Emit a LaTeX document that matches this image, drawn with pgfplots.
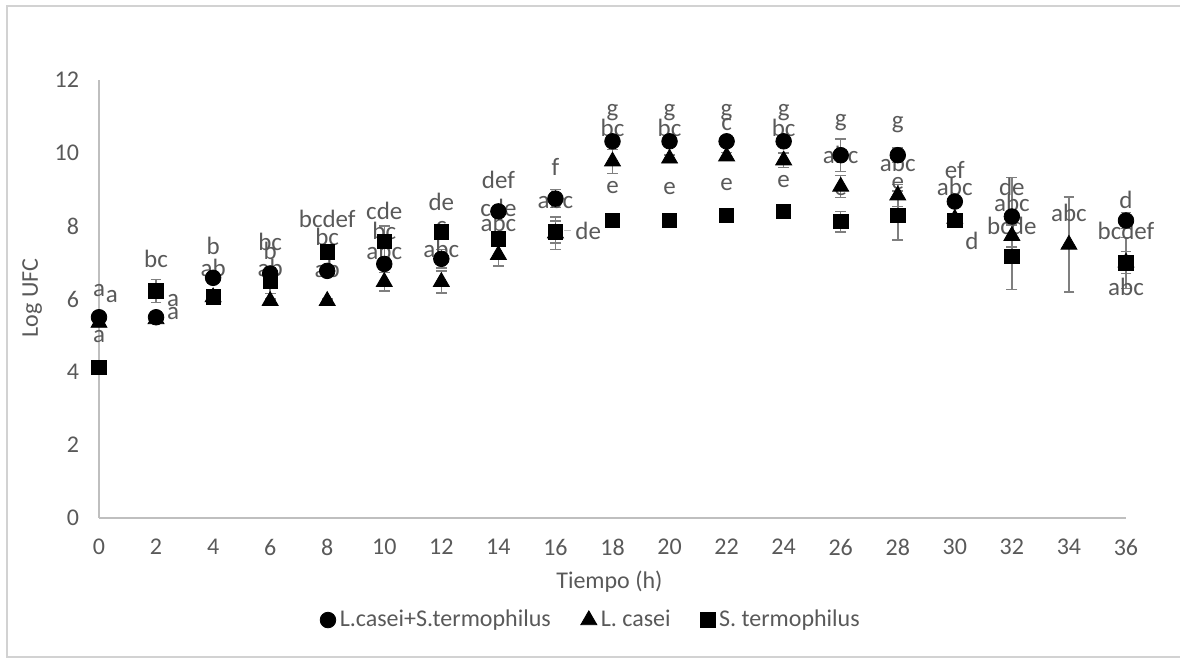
\documentclass[border=0pt]{standalone}
\usepackage{pgfplots}
\pgfplotsset{compat=1.18}
\usepackage{fontspec}
\setmainfont{Carlito}
\definecolor{txt}{HTML}{595959}
\definecolor{axl}{HTML}{BFBFBF}
\definecolor{err}{HTML}{7F7F7F}
\begin{document}
\begin{tikzpicture}
\useasboundingbox (-49.5pt,-70pt) rectangle (540.5pt,259pt);
\draw[color=axl!70, line width=0.8pt] (545pt,256pt) -- (-46pt,256pt) -- (-46pt,-69.5pt) -- (545pt,-69.5pt);
\begin{axis}[
  at={(0,0)}, anchor=south west,
  scale only axis, width=513.5pt, height=219pt,
  xmin=0, xmax=36, ymin=0, ymax=12,
  xtick={0,2,...,36}, ytick={0,2,...,12},
  axis x line=bottom, axis y line=left,
  axis line style={-, color=axl, line width=0.8pt},
  major tick length=0pt,
  tick label style={font=\fontsize{12}{14}\selectfont, color=txt},
  /pgf/number format/assume math mode=true,
  xticklabel style={yshift=-7pt},
  yticklabel style={xshift=-6.5pt},
  xlabel={Tiempo (h)}, ylabel={Log UFC},
  label style={font=\fontsize{12}{14}\selectfont, color=txt},
  xlabel style={at={(rel axis cs:0.497,-0.146)}, anchor=center},
  ylabel style={at={(rel axis cs:-0.065,0.502)}, anchor=center, rotate=0},
  legend style={at={(rel axis cs:0.48,-0.233)}, anchor=center, draw=none, fill=none,
    legend columns=3, font=\fontsize{12}{14}\selectfont, text=txt,
    /tikz/every even column/.append style={column sep=13pt},
    legend cell align=left},
  error bars/y dir=both, error bars/y explicit,
  error bars/error bar style={color=err, line width=0.75pt},
  error bars/error mark options={rotate=90, mark size=2.7pt, color=err, line width=0.75pt},
  clip=false,
]
\addplot[only marks, mark=*, mark size=3.9pt, black] table[x=t, y=v, y error=e] {
t v e
0 5.50 0.10
2 5.50 0.10
4 6.58 0.10
6 6.70 0.10
8 6.77 0.10
10 6.96 0.15
12 7.10 0.25
14 8.40 0.15
16 8.75 0.25
18 10.32 0.10
20 10.32 0.10
22 10.32 0.10
24 10.32 0.10
26 9.94 0.45
28 9.94 0.20
30 8.67 0.10
32 8.26 1.07
36 8.15 0.22
};
\addlegendentry{L.casei+S.termophilus}
\addplot[only marks, mark=triangle*, mark size=4.6pt, black] table[x=t, y=v, y error=e] {
t v e
0 5.35 0.05
2 5.45 0.05
4 6.05 0.05
6 5.95 0.05
8 5.95 0.05
10 6.47 0.25
12 6.47 0.30
14 7.21 0.30
16 7.80 0.45
18 9.77 0.33
20 9.85 0.10
22 9.91 0.10
24 9.80 0.20
26 9.08 0.30
28 8.84 0.30
30 8.20 0.10
32 7.73 0.30
34 7.49 1.30
36 7.00 0.30
};
\addlegendentry{L. casei}
\addplot[only marks, mark=square*, mark size=3.6pt, black] table[x=t, y=v, y error=e] {
t v e
0 4.13 0.10
2 6.22 0.32
4 6.06 0.10
6 6.50 0.35
8 7.29 0.10
10 7.57 0.43
12 7.84 0.10
14 7.65 0.20
16 7.84 0.30
18 8.15 0.05
20 8.15 0.10
22 8.29 0.05
24 8.40 0.05
26 8.12 0.28
28 8.29 0.67
30 8.15 0.10
32 7.16 0.90
36 6.99 0.70
};
\addlegendentry{S. termophilus}
\draw[color=axl, line width=0.75pt] (axis cs:16.3,7.87) -- (axis cs:16.55,7.87);
\begin{scope}[every node/.style={font=\fontsize{12.5}{14}\selectfont, text=txt, inner sep=0pt}]
\node at (axis cs:0,6.22) {a};
\node at (axis cs:0.45,6.08) {a};
\node at (axis cs:0,4.98) {a};
\node at (axis cs:2,7.10) {bc};
\node at (axis cs:2.6,5.95) {a};
\node at (axis cs:2.6,5.59) {a};
\node at (axis cs:4,7.46) {b};
\node at (axis cs:4,6.85) {ab};
\node at (axis cs:6,7.57) {bc};
\node at (axis cs:6,7.32) {b};
\node at (axis cs:6,6.85) {ab};
\node at (axis cs:8,8.20) {bcdef};
\node at (axis cs:8,7.70) {bc};
\node at (axis cs:8,6.83) {ab};
\node at (axis cs:10,8.42) {cde};
\node at (axis cs:10,7.87) {bc};
\node at (axis cs:10,7.32) {abc};
\node at (axis cs:12,8.67) {de};
\node at (axis cs:12,7.95) {c};
\node at (axis cs:12,7.38) {abc};
\node at (axis cs:14,9.25) {def};
\node at (axis cs:14,8.50) {cde};
\node at (axis cs:14,8.09) {abc};
\node at (axis cs:16,9.63) {f};
\node at (axis cs:16,8.72) {abc};
\node at (axis cs:17.15,7.87) {de};
\node at (axis cs:18,11.11) {g};
\node at (axis cs:18,10.68) {bc};
\node at (axis cs:18,9.06) {e};
\node at (axis cs:20,11.11) {g};
\node at (axis cs:20,10.68) {bc};
\node at (axis cs:20,9.03) {e};
\node at (axis cs:22,11.11) {g};
\node at (axis cs:22,10.77) {c};
\node at (axis cs:22,9.14) {e};
\node at (axis cs:24,11.11) {g};
\node at (axis cs:24,10.68) {bc};
\node at (axis cs:24,9.22) {e};
\node at (axis cs:26,10.82) {g};
\node at (axis cs:26,9.94) {abc};
\node at (axis cs:26,9.00) {e};
\node at (axis cs:28,10.77) {g};
\node at (axis cs:28,9.72) {abc};
\node at (axis cs:28,9.17) {e};
\node at (axis cs:30,9.52) {ef};
\node at (axis cs:30,9.08) {abc};
\node at (axis cs:30.6,7.60) {d};
\node at (axis cs:32,9.08) {de};
\node at (axis cs:32,8.64) {abc};
\node at (axis cs:32,8.00) {bcde};
\node at (axis cs:34,8.37) {abc};
\node at (axis cs:36,8.72) {d};
\node at (axis cs:36,7.87) {bcdef};
\node at (axis cs:36,6.33) {abc};
\end{scope}
\end{axis}
\end{tikzpicture}
\end{document}
